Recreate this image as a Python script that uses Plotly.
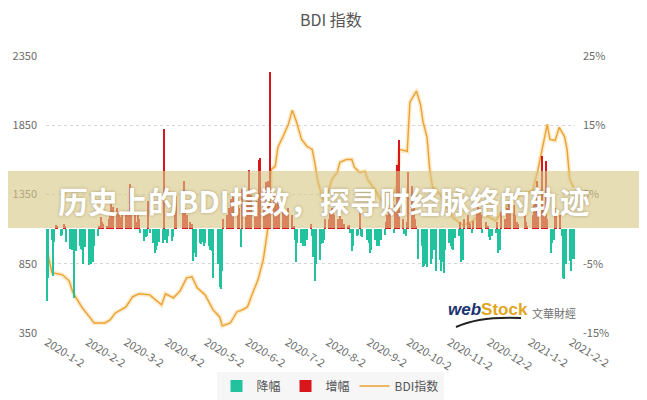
import pandas as pd
import plotly.graph_objects as go

# ---------------- data ----------------
title_text = "BDI 指数"
banner_text = "历史上的BDI指数，探寻财经脉络的轨迹"

bdi_dates = [
    "2020-01-02", "2020-01-06", "2020-01-14", "2020-01-19", "2020-01-22", "2020-01-25", "2020-01-29",
    "2020-02-04", "2020-02-07", "2020-02-15", "2020-02-19", "2020-02-23",
    "2020-03-02", "2020-03-07", "2020-03-12", "2020-03-20", "2020-03-25", "2020-03-29",
    "2020-04-01", "2020-04-07", "2020-04-12", "2020-04-17", "2020-04-21", "2020-04-25",
    "2020-05-01", "2020-05-07", "2020-05-12", "2020-05-14", "2020-05-20", "2020-05-25", "2020-05-29",
    "2020-06-02", "2020-06-06", "2020-06-10", "2020-06-14", "2020-06-17", "2020-06-19", "2020-06-20",
    "2020-06-23", "2020-06-25", "2020-06-29",
    "2020-07-03", "2020-07-06", "2020-07-09", "2020-07-13", "2020-07-17", "2020-07-21", "2020-07-23",
    "2020-07-25", "2020-07-29",
    "2020-08-01", "2020-08-05", "2020-08-09", "2020-08-11", "2020-08-16", "2020-08-20", "2020-08-22",
    "2020-08-26", "2020-08-30",
    "2020-09-01", "2020-09-08", "2020-09-14", "2020-09-19", "2020-09-23", "2020-09-25",
    "2020-10-01", "2020-10-03", "2020-10-07", "2020-10-08", "2020-10-11", "2020-10-13", "2020-10-16",
    "2020-10-18", "2020-10-20", "2020-10-26", "2020-10-30",
    "2020-11-05", "2020-11-12", "2020-11-18", "2020-11-24",
    "2020-12-01", "2020-12-07", "2020-12-11", "2020-12-16", "2020-12-22", "2020-12-31",
    "2021-01-04", "2021-01-08", "2021-01-12", "2021-01-15", "2021-01-17", "2021-01-21", "2021-01-24",
    "2021-01-28", "2021-01-30", "2021-02-01", "2021-02-04",
]
bdi_values = [
    960, 785, 770, 727, 640, 589, 531,
    459, 422, 422, 444, 495,
    538, 611, 633, 625, 582, 553,
    633, 604, 654, 748, 756, 676,
    625, 517, 466, 401, 422, 502, 517,
    538, 640, 734, 879, 1075, 1263, 1531,
    1553, 1690, 1770,
    1857, 1959, 1879, 1748, 1698, 1676, 1582,
    1459, 1314,
    1330, 1459, 1509, 1582, 1603, 1603, 1546,
    1509, 1517,
    1459, 1364, 1260, 1270, 1420, 1676,
    1661, 2017, 2089, 2096, 2002, 1872, 1763,
    1531, 1408, 1350, 1270,
    1180, 1130, 1145, 1200,
    1190, 1160, 1220, 1270, 1330, 1366,
    1380, 1531, 1727, 1857, 1748, 1741, 1835,
    1770, 1676, 1459, 1400,
]

# daily change (%) by month, one value per business day
chg_2020_01 = [-10.4, -7.0, -1.5, -6.8, -1.9, 0.6, 0.5, -1.0, -0.8, 0.7, 0.4, -1.8, -2.8, -3.0,
               -2.5, -10.0, -3.2, -2.4, -2.8, -3.0, -5.0, -2.6]
chg_2020_02 = [-5.2, -4.0, -5.0, -4.8, -2.5, -1.0, 0.5, 1.7, 1.0, 0.8, 0.5, 1.5, 2.0, 3.6, 3.2,
               3.0, 2.0, 2.2, 1.8, 2.3]
chg_2020_03 = [2.0, 1.5, 2.5, 6.5, 5.0, 2.0, 1.0, 2.0, 1.5, -0.5, -1.7, -1.2, -1.0, 4.0, -0.6,
               -2.0, -3.4, -3.0, -2.5, -1.8, -2.0, 14.4]
chg_2020_04 = [-1.5, -2.0, -1.0, -1.7, -1.2, 2.0, 4.8, 0.0, 0.0, 5.0, 6.9, 3.0, 2.0, 1.0, 0.8,
               -4.6, -3.5, -4.0, -2.0, -2.2, -1.8, -2.5]
chg_2020_05 = [-2.0, -2.5, -3.0, -3.2, -7.0, 0.0, -5.0, -8.4, -8.7, -6.0, 1.5, 2.0, 3.0, 2.5, 4.3,
               5.0, 0.0, 4.5, 3.0, -2.6, 5.8]
chg_2020_06 = [3.0, 5.5, 8.5, 4.0, 5.0, 3.5, 4.0, 3.0, 10.0, 10.2, 3.0, 6.8, 5.0, 7.0, 22.7, 5.0,
               1.5, 4.0, 4.5, 3.0, 2.5, 3.0]
chg_2020_07 = [2.0, 2.5, 3.0, 2.0, 0.5, -1.5, -4.8, -2.0, -2.0, -2.4, -1.0, -2.5, -1.5, 0.8, -1.0,
               -4.0, -7.5, -5.0, -4.5, -2.2, -2.0, -1.5, 1.5]
chg_2020_08 = [1.5, 2.5, 3.0, 2.3, 2.0, 1.5, 2.5, 1.0, 1.5, 0.8, 0.5, 0.6, -0.5, -3.1, -2.5, -1.0,
               -0.8, 2.5, -1.0, -1.2, 0.0]
chg_2020_09 = [-1.5, -2.0, -3.4, -3.0, -1.5, -2.4, -2.0, -2.4, -1.5, -0.8, 1.0, 2.0, 3.0, 2.5, -0.6,
               3.5, 9.2, 5.0, 12.8, 1.5, -0.7, -1.0]
chg_2020_10 = [1.0, 8.2, 6.3, 3.0, 1.5, 0.5, -4.3, -2.5, -5.5, -5.3, -5.0, -5.5, -5.0, -4.3, -3.0,
               -2.0, -6.0, -4.5, -6.0, -4.8, -6.3, -3.0]
chg_2020_11 = [-2.0, -2.5, -2.9, -3.0, -1.3, -1.0, 1.0, -4.8, -4.5, 1.5, 2.0, 1.0, 0.8, -0.5, 1.2,
               2.5, 3.5, 3.0, 2.0, -0.5, 1.0]
chg_2020_12 = [0.5, -1.2, -1.5, -1.0, -0.5, 1.0, -3.4, -3.0, 2.5, 1.5, 0.5, 3.0, 4.0, 2.5, 3.5, 2.0,
               1.0, 0.8, 0.0, 0.0, 2.5, 1.0, 0.5]
chg_2021_01 = [2.0, 3.5, 5.0, 7.0, 4.0, 10.6, 3.0, 2.0, 9.9, 1.5, -3.4, -2.0, -1.5, 3.0, 2.5, 2.0,
               -1.0, -7.0, -7.2, -5.0]
chg_2021_02 = [-4.6, -6.0, -4.3, -4.3]

month_spans = [
    ("2020-01-02", "2020-01-31", chg_2020_01),
    ("2020-02-01", "2020-02-29", chg_2020_02),
    ("2020-03-01", "2020-03-31", chg_2020_03),
    ("2020-04-01", "2020-04-30", chg_2020_04),
    ("2020-05-01", "2020-05-31", chg_2020_05),
    ("2020-06-01", "2020-06-30", chg_2020_06),
    ("2020-07-01", "2020-07-31", chg_2020_07),
    ("2020-08-01", "2020-08-31", chg_2020_08),
    ("2020-09-01", "2020-09-30", chg_2020_09),
    ("2020-10-01", "2020-10-31", chg_2020_10),
    ("2020-11-01", "2020-11-30", chg_2020_11),
    ("2020-12-01", "2020-12-31", chg_2020_12),
    ("2021-01-04", "2021-01-31", chg_2021_01),
    ("2021-02-01", "2021-02-04", chg_2021_02),
]

tick_dates = ["2020-01-02", "2020-02-02", "2020-03-02", "2020-04-02", "2020-05-02", "2020-06-02",
              "2020-07-02", "2020-08-02", "2020-09-02", "2020-10-02", "2020-11-02", "2020-12-02",
              "2021-01-02", "2021-02-02"]
tick_labels = ["2020-1-2", "2020-2-2", "2020-3-2", "2020-4-2", "2020-5-2", "2020-6-2", "2020-7-2",
               "2020-8-2", "2020-9-2", "2020-10-2", "2020-11-2", "2020-12-2", "2021-1-2", "2021-2-2"]
left_ticks = [350, 850, 1350, 1850, 2350]
right_ticks = [-15, -5, 5, 15, 25]
right_labels = ["-15%", "-5%", "5%", "15%", "25%"]
legend_names = ["降幅", "增幅", "BDI指数"]

# ---------------- build ----------------
bar_dates, bar_vals = [], []
for start, end, vals in month_spans:
    days = pd.bdate_range(start, end)
    for d, v in zip(days, vals):
        bar_dates.append(d)
        bar_vals.append(v)

neg_x = [d for d, v in zip(bar_dates, bar_vals) if v < 0]
neg_y = [v for v in bar_vals if v < 0]
pos_x = [d for d, v in zip(bar_dates, bar_vals) if v > 0]
pos_y = [v for v in bar_vals if v > 0]

FONT = "Noto Sans CJK SC, Noto Sans, sans-serif"
TEAL = "#22c29e"
RED = "#d9161c"
ORANGE = "#eba234"
DAY = 86400000

fig = go.Figure()
fig.add_trace(go.Bar(x=neg_x, y=neg_y, name=legend_names[0], marker_color=TEAL,
                     marker_line_width=0, width=DAY * 1.0, yaxis="y2"))
fig.add_trace(go.Bar(x=pos_x, y=pos_y, name=legend_names[1], marker_color=RED,
                     marker_line_width=0, width=DAY * 1.0, yaxis="y2"))
fig.add_trace(go.Scatter(x=bdi_dates, y=bdi_values, mode="lines", showlegend=False,
                         hoverinfo="skip",
                         line=dict(color="rgba(245,195,100,0.35)", width=4.5)))
fig.add_trace(go.Scatter(x=bdi_dates, y=bdi_values, mode="lines", name=legend_names[2],
                         line=dict(color=ORANGE, width=1.4)))

# the page body adds an 8px offset, so the figure is laid out 8px smaller / shifted
OFF = 8
W, H = 647 - OFF, 400 - OFF
L, R, T, B = 46 - OFF, 575 - OFF, 56 - OFF, 333 - OFF


def px(x):  # reference-picture x -> paper fraction
    return (x - OFF - L) / (R - L)


def py(y):  # reference-picture y -> paper fraction
    return (B - (y - OFF)) / (B - T)


fig.update_layout(
    width=W, height=H,
    margin=dict(l=L, r=W - R, t=T, b=H - B, pad=0, autoexpand=False),
    paper_bgcolor="white", plot_bgcolor="white",
    font=dict(family=FONT, size=11, color="#6b6b6b"),
    barmode="overlay",
    bargap=0,
    showlegend=True,
    legend=dict(orientation="h", xref="container", yref="container",
                x=(330 - OFF) / W, xanchor="center", y=(H - (386 - OFF)) / H, yanchor="middle",
                bgcolor="rgba(244,244,244,0.8)", font=dict(size=12, color="#555"),
                itemwidth=30, traceorder="normal"),
    xaxis=dict(type="date", range=["2020-01-01 12:00", "2021-02-05"],
               tickvals=tick_dates, ticktext=tick_labels, tickangle=32,
               showgrid=False, showline=False, zeroline=False, ticks="", automargin=False,
               tickfont=dict(size=11, color="#6b6b6b")),
    yaxis=dict(range=[350, 2350], tickvals=left_ticks, showgrid=True,
               gridcolor="#d6d6d6", griddash="dot", gridwidth=1, zeroline=False,
               showline=False, ticks="", ticklabelstandoff=8, automargin=False,
               tickfont=dict(size=11, color="#6b6b6b")),
    yaxis2=dict(range=[-15, 25], tickvals=right_ticks, ticktext=right_labels, overlaying="y",
                side="right", showgrid=False, zeroline=False, showline=False, ticks="",
                ticklabelstandoff=7, automargin=False, tickfont=dict(size=11, color="#6b6b6b")),
)

# banner band
fig.add_shape(type="rect", xref="paper", yref="paper",
              x0=px(0), x1=px(660), y0=py(228), y1=py(171),
              fillcolor="rgba(216,200,136,0.62)", line_width=0, layer="above")

fig.add_annotation(text="<b>" + banner_text + "</b>", xref="paper", yref="paper",
                   x=px(324), y=py(200), showarrow=False, xanchor="center", yanchor="middle",
                   borderpad=0,
                   font=dict(family="Noto Sans CJK SC", size=30, color="white",
                             shadow="0px 0px 3px rgba(90,70,30,0.45)"))

fig.add_annotation(text=title_text, xref="paper", yref="paper", x=px(331), y=py(19),
                   showarrow=False, xanchor="center", yanchor="middle", borderpad=0,
                   font=dict(family=FONT, size=16, color="#555"))

# watermark
fig.add_annotation(text="<b><i>web</i></b><b><span style='color:#e2a521'>Stock</span></b>",
                   xref="paper", yref="paper", x=px(488), y=py(309), showarrow=False,
                   xanchor="center", yanchor="middle",
                   font=dict(family="Liberation Sans", size=17, color="#1c3370"))
fig.add_annotation(text="文華財經", xref="paper", yref="paper", x=px(554), y=py(313),
                   showarrow=False, xanchor="center", yanchor="middle",
                   font=dict(family="Noto Sans CJK TC", size=11, color="#6e6e6e"))
fig.add_shape(type="path", xref="paper", yref="paper",
              path="M %f,%f Q %f,%f %f,%f" % (px(456), py(327), px(480), py(316), px(521), py(318)),
              line=dict(color="#222", width=2), layer="above")

fig.write_html("out.html")
